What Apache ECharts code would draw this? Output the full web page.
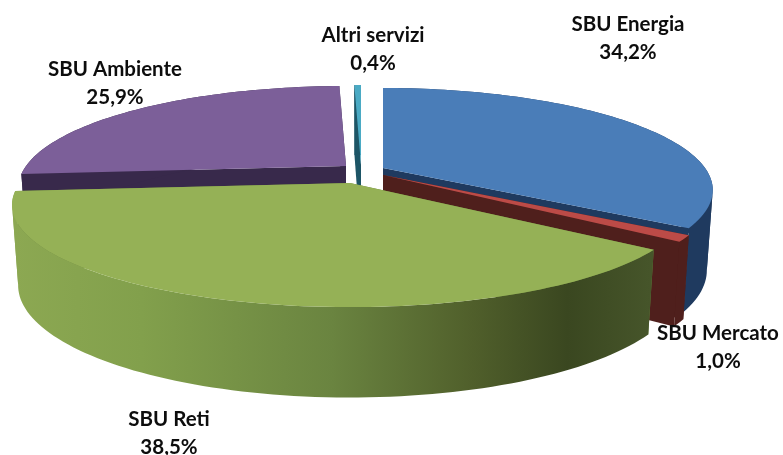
<!DOCTYPE html>
<html><head><meta charset="utf-8">
<script src="https://cdn.jsdelivr.net/npm/echarts@6/dist/echarts.min.js"></script>
<style>html,body{margin:0;padding:0;background:#fff}#c{width:783px;height:455px}</style>
</head><body><div id="c"></div>
<script>
const categories = ['SBU Energia','SBU Mercato','SBU Reti','SBU Ambiente','Altri servizi'];
const values = [34.2,1.0,38.5,25.9,0.4];
const topColors = ['#4a7db8','#bc4b47','#95b156','#7c5f99','#4aaac4'];
const wallColors = ['#1f3a5f','#4f1f1c','#6b8540','#38294b','#1d5566'];
// layout of the exploded 3D pie (not data)
const apexes = [[383,168],[383,175],[350,183],[346,166],[361,165]];
const radii = [322,322,330,320,322];
const labelPos = [[628,38],[718,347],[169,433],[115,83],[373,49]];
const drawOrder = [3,4,0,1,2];
const ry = 97.3, persp = 0.216;

function rimOffset(i,deg){
  const a = deg*Math.PI/180, u=Math.sin(a), v=Math.cos(a), s=1/(1+persp*v);
  return [radii[i]*u*s, -ry*v*s];
}
function upper(i,d){return [apexes[i][0]+d[0], apexes[i][1]+d[1]];}
function lower(i,d){return [apexes[i][0]+d[0]*0.982, apexes[i][1]+d[1]+78+0.1*d[1]];}

const total = values.reduce((a,b)=>a+b,0);
function render(params){
  const i = params.dataIndex;
  let start=0; for(let k=0;k<i;k++) start+=values[k]/total*360;
  const end = start+values[i]/total*360;
  const arc=[]; const n=Math.max(2,Math.ceil((end-start)/1.5));
  for(let k=0;k<=n;k++) arc.push(rimOffset(i,start+(end-start)*k/n));
  const z=drawOrder.indexOf(i)*10;
  const apex0=[0,0];
  const quad=(d)=>[upper(i,apex0),upper(i,d),lower(i,d),lower(i,apex0)];
  const wallFill = i===2 ? {type:'linear',global:true,x:14,y:0,x2:650,y2:0,colorStops:[
    {offset:0,color:'#8ca852'},{offset:0.2,color:'#82a04c'},{offset:0.5,color:'#6a8440'},
    {offset:0.72,color:'#505f2b'},{offset:0.87,color:'#3a4720'},{offset:1,color:'#46552a'}]} : wallColors[i];
  const cutFill = wallColors[i];
  // split the outer wall where the rim folds back in x, so each band is a simple polygon
  const bands=[]; let cur=[arc[0]], dir=0;
  for(let k=1;k<=n;k++){
    const sgn=Math.sign(arc[k][0]-arc[k-1][0]);
    if(dir!==0 && sgn!==0 && sgn!==dir){ bands.push(cur); cur=[arc[k-1]]; }
    if(sgn!==0) dir=sgn;
    cur.push(arc[k]);
  }
  bands.push(cur);
  const outerEls = bands.map(b=>({type:'polygon',z2:z+2,
    shape:{points:b.map(d=>upper(i,d)).concat(b.slice().reverse().map(d=>lower(i,d)))},style:{fill:wallFill}}));
  const face = [upper(i,apex0)].concat(arc.map(d=>upper(i,d)));
  const txt = categories[i]+'\n'+values[i].toFixed(1).replace('.',',')+'%';
  return {type:'group',children:[
    {type:'polygon',z2:z,shape:{points:quad(arc[0])},style:{fill:cutFill}},
    {type:'polygon',z2:z+1,shape:{points:quad(arc[n])},style:{fill:cutFill}},
    ...outerEls,
    {type:'polygon',z2:z+3,shape:{points:face},style:{fill:topColors[i]}},
    {type:'text',z2:100,x:labelPos[i][0],y:labelPos[i][1],style:{text:txt,fill:'#0d0d0d',
      font:'bold 20.5px Lato',align:'center',verticalAlign:'middle',lineHeight:28}}
  ]};
}
const chart = echarts.init(document.getElementById('c'),null,{renderer:'canvas'});
chart.setOption({animation:false,backgroundColor:'#fff',
  series:[{type:'custom',coordinateSystem:'none',renderItem:render,
    data:values.map((v,i)=>({name:categories[i],value:v}))}]});
</script></body></html>
